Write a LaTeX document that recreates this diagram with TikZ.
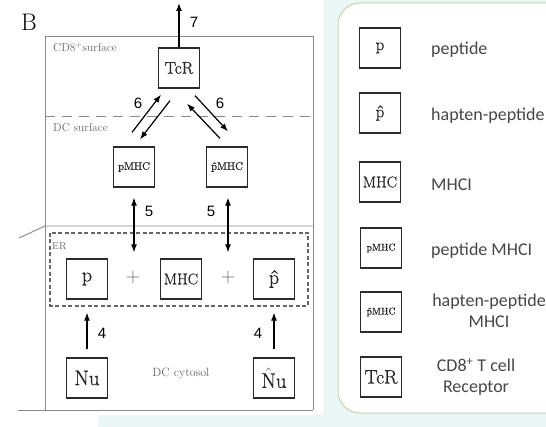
\documentclass[tikz,border=0pt]{standalone}
\usepackage{fontspec}
\newfontfamily\numfont{Liberation Sans}
\newfontfamily\legfont{Carlito}
\newfontfamily\boxfont{Latin Modern Roman}[FakeBold=0.8]
\usetikzlibrary{arrows.meta,calc}
\definecolor{bgcyan}{HTML}{EBF7F7}
\definecolor{framegrey}{HTML}{8A8A8A}
\definecolor{labelgrey}{HTML}{666666}
\definecolor{boxdark}{HTML}{2A2A2A}
\definecolor{legborder}{HTML}{C5D6AA}
\definecolor{legtext}{HTML}{474747}
\begin{document}
\begin{tikzpicture}[x=1pt,y=-1pt,
  species/.style={draw=boxdark,line width=1.3pt,minimum width=41pt,minimum height=40pt,
    inner sep=0pt,text=black!85},
  fs/.style={font=\boxfont\fontsize{#1}{#1}\selectfont},
  flow/.style={line width=1.2pt,-{Latex[length=8pt,width=6pt]}},
  bothflow/.style={line width=1.2pt,{Latex[length=8pt,width=6pt]}-{Latex[length=8pt,width=6pt]}},
  stepno/.style={font=\numfont\fontsize{15}{15}\selectfont,inner sep=0pt},
  region/.style={font=\fontsize{11.5}{12}\selectfont,text=labelgrey,inner sep=0pt,anchor=west},
  legtxt/.style={font=\legfont\fontsize{18}{21}\selectfont,text=legtext,inner sep=0pt},
]
\useasboundingbox (0,0) rectangle (546,427);
% page background and the white panel of the reaction scheme
\fill[bgcyan] (0,0) rectangle (546,427);
\fill[white] (0,0) -- (323,0) -- (323,415) -- (98,415) -- (98,427) -- (0,427) -- cycle;

% compartments
\draw[framegrey,line width=0.9pt] (45,410) -- (45,36) -- (313,36) -- (313,410);
\draw[framegrey,line width=0.9pt] (18,410) -- (313,410);
\draw[framegrey,line width=0.9pt] (19,238) -- (45,226) -- (313,226);
\draw[framegrey,line width=0.9pt,dash pattern=on 10pt off 7pt] (45,116) -- (313,116);
\draw[labelgrey,line width=1.1pt,dash pattern=on 4pt off 2.5pt] (50,233) rectangle (308,306);

\node[font=\fontsize{24}{24}\selectfont,inner sep=0pt] (panel) at (29,22) {B};
\node[region] (cdsurf) at (53,47) {CD8$^+$surface};
\node[region] (dcsurf) at (53,128) {DC surface};
\node[region,font=\fontsize{10}{10}\selectfont] (er) at (52,246) {ER};
\node[region,anchor=center,font=\fontsize{12}{12}\selectfont] (cyt) at (181,374) {DC cytosol};

% species
\node[species,fs=17] (tcr) at (179,68) {TcR};
\node[species,fs=10.8] (pmhc) at (134,167) {pMHC};
\node[species,fs=10.8] (hpmhc) at (227,167) {\^{p}MHC};
\node[species,fs=20] (p) at (87,279) {p};
\node[species,fs=15.5] (mhc) at (181,279) {MHC};
\node[species,fs=20] (hp) at (274,279) {\^{p}};
\node[species,fs=21] (nu) at (87,378) {Nu};
\node[species,fs=21] (hnu) at (274,378) {$\hat{\hbox{N}}$u};
\node[font=\fontsize{20}{20}\selectfont,text=labelgrey,inner sep=0pt] (plusa) at (133,278) {+};
\node[font=\fontsize{20}{20}\selectfont,text=labelgrey,inner sep=0pt] (plusb) at (228,278) {+};

% reactions
\coordinate (out) at (179,3);
\draw[flow] (tcr.north) -- (out);
\node[stepno] (n7) at (194,22) {7};

\draw[flow] ($(pmhc.north)+(-2,-14)$) -- ($(tcr.south)+(-18,6)$);
\draw[flow] ($(tcr.south)+(-9,12)$) -- ($(pmhc.north)+(6,-7)$);
\draw[flow] ($(tcr.south)+(16,7)$) -- ($(hpmhc.north)+(1,-15)$);
\draw[flow] ($(hpmhc.north)+(-7,-8)$) -- ($(tcr.south)+(8,15)$);
\node[stepno] (n6a) at (138,103) {6};
\node[stepno] (n6b) at (220,103) {6};

\draw[bothflow] ($(pmhc.south)+(0,10)$) -- ($(p.north)+(47,-6)$);
\draw[bothflow] ($(hpmhc.south)+(1,10)$) -- ($(hp.north)+(-46,-6)$);
\node[stepno] (n5a) at (149,211) {5};
\node[stepno] (n5b) at (211,211) {5};

\draw[flow] ($(nu.north)+(0,-8)$) -- ($(p.south)+(0,13)$);
\draw[flow] ($(hnu.north)+(0,-8)$) -- ($(hp.south)+(0,13)$);
\node[stepno] (n4a) at (102,333) {4};
\node[stepno] (n4b) at (258,333) {4};

% key
\draw[legborder,fill=white,line width=1pt,rounded corners=22pt] (338,3) rectangle (575,413);
\node[species,fs=17] (kp) at (380,48) {p};
\node[species,fs=17] (khp) at (380,113) {\^{p}};
\node[species,fs=15.5] (kmhc) at (380,182) {MHC};
\node[species,fs=9.8] (kpmhc) at (381,248) {pMHC};
\node[species,fs=9.8] (khpmhc) at (381,312) {\^{p}MHC};
\node[species,fs=19.5] (ktcr) at (381,377) {TcR};
\node[legtxt,anchor=west] (tp) at (431,50) {peptide};
\node[legtxt,anchor=west] (thp) at (431,116) {hapten-peptide};
\node[legtxt,anchor=west] (tmhc) at (431,185) {MHCI};
\node[legtxt,anchor=west] (tpmhc) at (431,251) {peptide MHCI};
\node[legtxt,align=center] (thpmhc) at (489,311) {hapten-peptide\\MHCI};
\node[legtxt,align=center] (ttcr) at (476,377) {CD8\textsuperscript{+} T cell\\Receptor};
\end{tikzpicture}
\end{document}
